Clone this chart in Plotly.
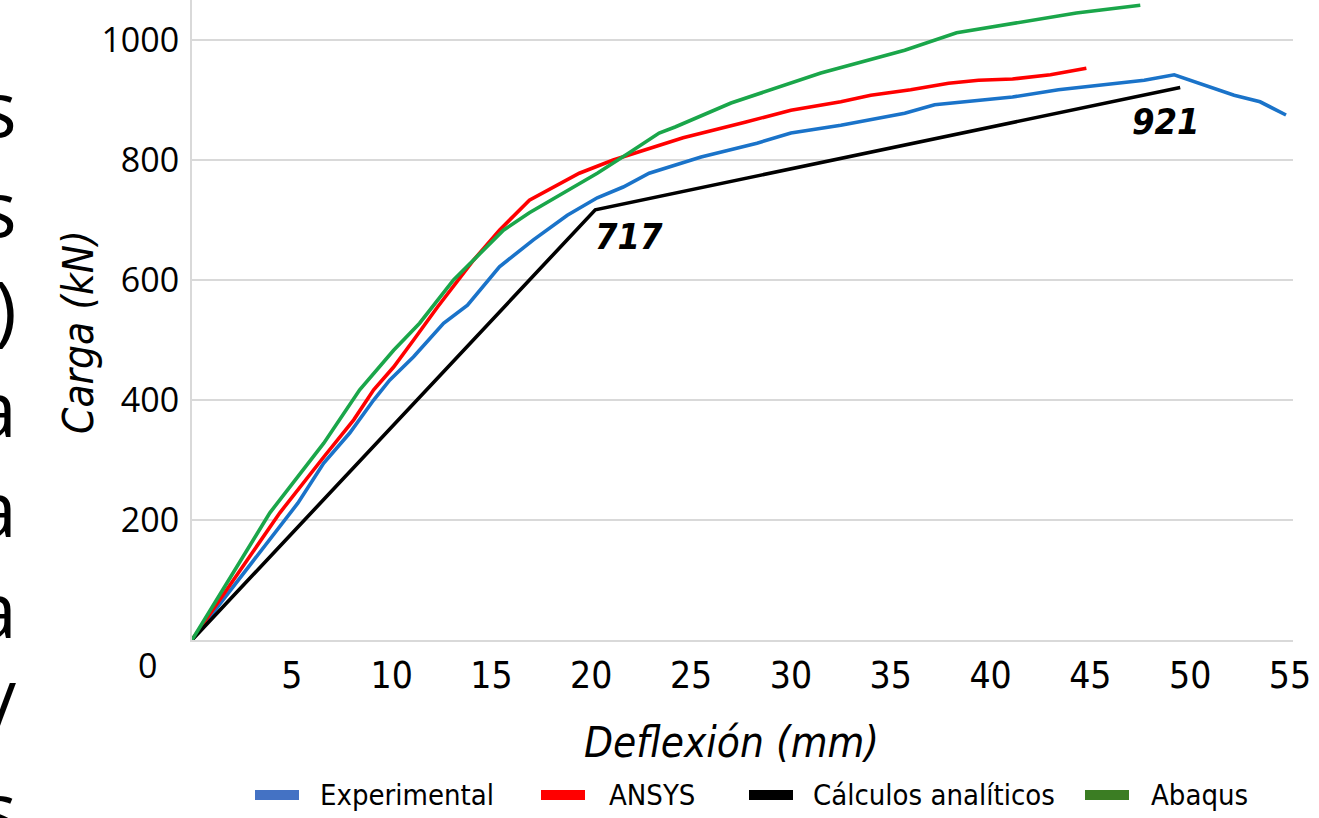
import plotly.graph_objects as go

# ---- data ----
exp_x = [0, 4.4, 5.3, 6.6, 7.9, 9.1, 9.9, 11.1, 12.6, 13.8, 15.4, 17.1, 18.8, 20.3, 21.6, 22.9,
         25.5, 28.3, 30.0, 32.5, 35.7, 37.2, 41.1, 43.4, 47.7, 49.2, 52.2, 53.5, 54.8]
exp_y = [0, 188, 228, 295, 345, 400, 433, 472, 528, 558, 622, 667, 708, 737, 755, 778,
         805, 828, 845, 858, 878, 892, 905, 917, 933, 942, 908, 897, 875]

ansys_x = [0, 4.4, 6.6, 8.1, 9.1, 10.1, 11.1, 12.3, 14.1, 15.4, 16.9, 18.1, 19.4, 21.1, 22.8,
           24.6, 27.7, 30.0, 32.5, 34.0, 36.0, 37.9, 39.4, 41.1, 43.0, 44.8]
ansys_y = [0, 212, 305, 367, 417, 455, 500, 555, 633, 683, 733, 755, 778, 800, 818,
           837, 863, 883, 897, 908, 917, 928, 933, 935, 942, 953]

anal_x = [0, 20.2, 49.5]
anal_y = [0, 717, 921]

abaqus_x = [0, 3.9, 6.6, 8.4, 10.1, 11.4, 13.1, 15.6, 16.9, 18.6, 20.3, 21.9, 23.4, 24.2,
            27.0, 31.5, 35.7, 38.3, 40.6, 44.3, 47.5]
abaqus_y = [0, 212, 328, 417, 483, 528, 600, 683, 712, 745, 778, 812, 845, 855,
            895, 945, 983, 1012, 1025, 1045, 1058]

x_ticks = [5, 10, 15, 20, 25, 30, 35, 40, 45, 50, 55]
y_ticks = [200, 400, 600, 800, 1000]

series_names = ["Experimental", "ANSYS", "Cálculos analíticos", "Abaqus"]
line_colors = ["#1a73c9", "#ff0000", "#000000", "#1aa64a"]
legend_colors = ["#4472c4", "#ff0000", "#000000", "#3b7d23"]

side_letters = ["s", "s", ")", "a", "a", "a", "/", "s"]

# ---- figure ----
W, H = 1319, 818
L, R, T, B = 192, 26, 0, 178
pw, ph = W - L - R, H - T - B

def px2paper_x(px):
    return (px - L) / pw

def px2paper_y(py):
    return (H - B - py) / ph

fig = go.Figure()
for xs, ys, name, col in zip([exp_x, ansys_x, anal_x, abaqus_x],
                             [exp_y, ansys_y, anal_y, abaqus_y],
                             series_names, line_colors):
    fig.add_trace(go.Scatter(x=xs, y=ys, mode="lines", name=name,
                             line=dict(color=col, width=3.6), showlegend=False))

tick_font_y = dict(family="Open Sans, Noto Sans, sans-serif", size=34, color="#000000")
narrow = "Liberation Sans Narrow, DejaVu Sans Condensed, Open Sans, sans-serif"
tick_font_x = dict(family=narrow, size=37, color="#000000")

fig.update_layout(
    width=W, height=H,
    margin=dict(l=L, r=R, t=T, b=B, pad=0),
    paper_bgcolor="white", plot_bgcolor="white",
    xaxis=dict(range=[0, 55.15], tickmode="array", tickvals=x_ticks,
               ticktext=[str(v) for v in x_ticks], tickfont=tick_font_x,
               showgrid=False, zeroline=False, showline=True, linecolor="#d9d9d9",
               linewidth=2, ticks="", ticklabelstandoff=2),
    yaxis=dict(range=[0, 1066.7], tickmode="array", tickvals=y_ticks,
               ticktext=[str(v) for v in y_ticks], tickfont=tick_font_y,
               showgrid=True, gridcolor="#d9d9d9", gridwidth=2,
               zeroline=False, showline=True, linecolor="#d9d9d9", linewidth=2,
               ticks="", ticklabelstandoff=4),
)

ann = []
# lone zero label at the corner
ann.append(dict(x=px2paper_x(147), y=px2paper_y(665), xref="paper", yref="paper",
                text="0", showarrow=False, font=tick_font_y, xanchor="center", yanchor="middle"))
# axis titles
ann.append(dict(x=px2paper_x(731), y=px2paper_y(742), xref="paper", yref="paper",
                text="<i>Deflexión (mm)</i>", showarrow=False,
                font=dict(family=narrow, size=42, color="#000000"),
                xanchor="center", yanchor="middle"))
ann.append(dict(x=px2paper_x(78), y=px2paper_y(332), xref="paper", yref="paper",
                text="<i>Carga (kN)</i>", showarrow=False, textangle=-90,
                font=dict(family=narrow, size=42, color="#000000"),
                xanchor="center", yanchor="middle"))
# value labels
ann.append(dict(x=anal_x[1], y=anal_y[1], xref="x", yref="y", text="<b><i>717</i></b>",
                showarrow=False, xanchor="left", yanchor="top", xshift=-2, yshift=-4,
                font=dict(family=narrow, size=36, color="#000000")))
ann.append(dict(x=anal_x[2], y=anal_y[2], xref="x", yref="y", text="<b><i>921</i></b>",
                showarrow=False, xanchor="center", yanchor="top", xshift=-14, yshift=-12,
                font=dict(family=narrow, size=36, color="#000000")))

# manual legend with rectangle swatches
leg_swatch_x = [255, 541, 749, 1085]
leg_text_x = [318, 607, 811, 1149]
shapes = []
for sx, tx, name, col in zip(leg_swatch_x, leg_text_x, series_names, legend_colors):
    shapes.append(dict(type="rect", xref="paper", yref="paper",
                       x0=px2paper_x(sx), x1=px2paper_x(sx + 44),
                       y0=px2paper_y(800), y1=px2paper_y(790),
                       fillcolor=col, line=dict(width=0)))
    ann.append(dict(x=px2paper_x(tx), y=px2paper_y(795), xref="paper", yref="paper",
                    text=name, showarrow=False, xanchor="left", yanchor="middle",
                    font=dict(family=narrow, size=29, color="#000000")))

# cropped slide text on the left edge (one multi-line text block)
ann.append(dict(x=px2paper_x(19), y=px2paper_y(458), xref="paper", yref="paper",
                text="<br>".join(side_letters), showarrow=False, xanchor="right",
                yanchor="middle", align="right",
                font=dict(family="Open Sans, Noto Sans, sans-serif", size=77, color="#000000")))

fig.update_layout(annotations=ann, shapes=shapes)
fig.write_html("out.html", config={"displayModeBar": False},
               post_script="document.body.style.margin='0';document.body.style.overflow='hidden';")
